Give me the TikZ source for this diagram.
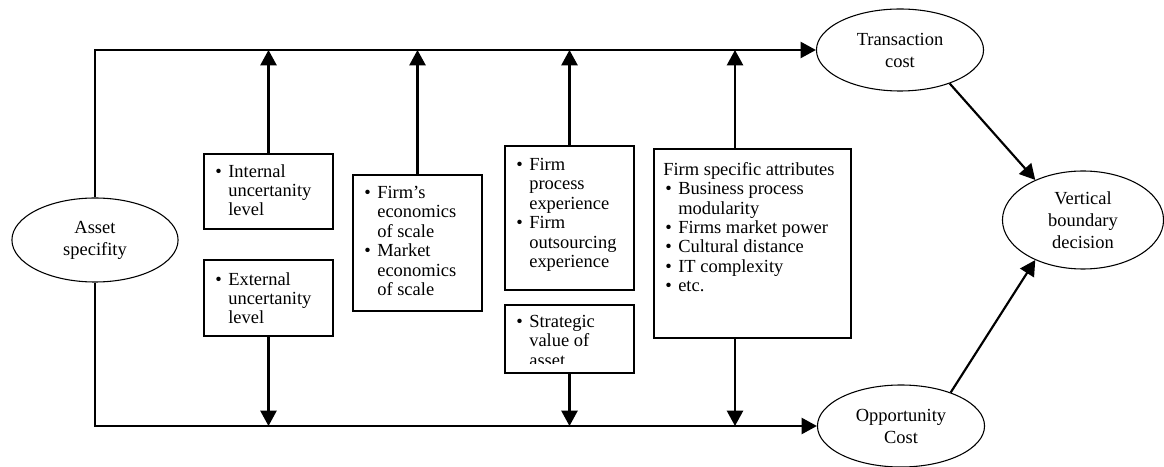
\documentclass[tikz,border=0pt]{standalone}
\usepackage{fontspec}
\setmainfont{Liberation Serif}
\usetikzlibrary{arrows.meta,shapes.geometric}

\newcommand{\bul}{\llap{\textbullet\hspace{4.2pt}}}
\newcommand{\sub}{\hspace*{9.75pt}}

\begin{document}
\begin{tikzpicture}[x=0.65pt,y=-0.65pt,
    font=\fontsize{12}{12.6}\selectfont,
    oval/.style={draw,ellipse,line width=0.7pt,inner sep=0pt,align=center,
      font=\fontsize{12}{14.3}\selectfont},
    boxed/.style={draw,rectangle,line width=0.7pt,inner sep=0pt,
      minimum width=83.85pt},
    txt/.style={anchor=north west,inner sep=0pt,align=left},
    link/.style={line width=1.4pt,-{Triangle[length=10pt,width=10.5pt]}}]

      \useasboundingbox (0,0) rectangle (1164,467);

      \node[oval,minimum width=108pt,minimum height=54.6pt](asset) at (95,240){Asset\\specifity};
      \node[oval,minimum width=108.6pt,minimum height=53.3pt](trans) at (900,50){Transaction\\cost};
      \node[oval,minimum width=108.6pt,minimum height=53.3pt](opp) at (901,426){Opportunity\\Cost};
      \node[oval,minimum width=104.7pt,minimum height=63.7pt](vert) at (1083,220){Vertical\\boundary\\decision};

      \node[boxed,minimum height=48.75pt](intl) at (268.5,191.5){};
      \node[boxed,minimum height=49.4pt](extl) at (268.5,298){};
      \node[boxed,minimum height=88.4pt](scale) at (417.5,243){};
      \node[boxed,minimum height=93.6pt](proc) at (569.5,218){};
      \node[boxed,minimum height=44.2pt](strat) at (569.5,339){};
      \node[boxed,minimum width=128.05pt,minimum height=122.85pt](attr) at (752.5,243.5){};

      \node[txt](intlT) at (228,164){\bul Internal\\uncertanity\\level};
      \node[txt](extlT) at (228,272){\bul External\\uncertanity\\level};
      \node[txt](scaleT) at (377,186){\bul Firm’s\\economics\\of scale\\\bul Market\\economics\\of scale};
      \node[txt](procT) at (529,158){\bul Firm\\process\\experience\\\bul Firm\\outsourcing\\experience};
      \begin{scope}
        \clip (505,305) rectangle (634,364);
        \node[txt](stratT) at (529,315){\bul Strategic\\value of\\asset};
      \end{scope}
      \node[txt](attrT) at (663,162){Firm specific attributes\\
        \sub\bul Business process\\\sub modularity\\\sub\bul Firms market power\\
        \sub\bul Cultural distance\\\sub\bul IT complexity\\\sub\bul etc.};

      \coordinate (attrup) at (735,149);
      \coordinate (attrdn) at (735,338);

      \draw[link] (asset.north) |- (trans.west);
      \draw[link] (asset.south) |- (opp.west);

      \foreach \b in {intl.north,scale.north,proc.north,attrup} {
        \draw[link] (\b) -- (\b |- trans.west);
      }

      \foreach \b in {extl.south,strat.south,attrdn} {
        \draw[link] (\b) -- (\b |- opp.west);
      }

      \draw[link] (trans.-34) -- (vert.140);
      \draw[link] (opp.34) -- (vert.220);
    \end{tikzpicture}
\end{document}
